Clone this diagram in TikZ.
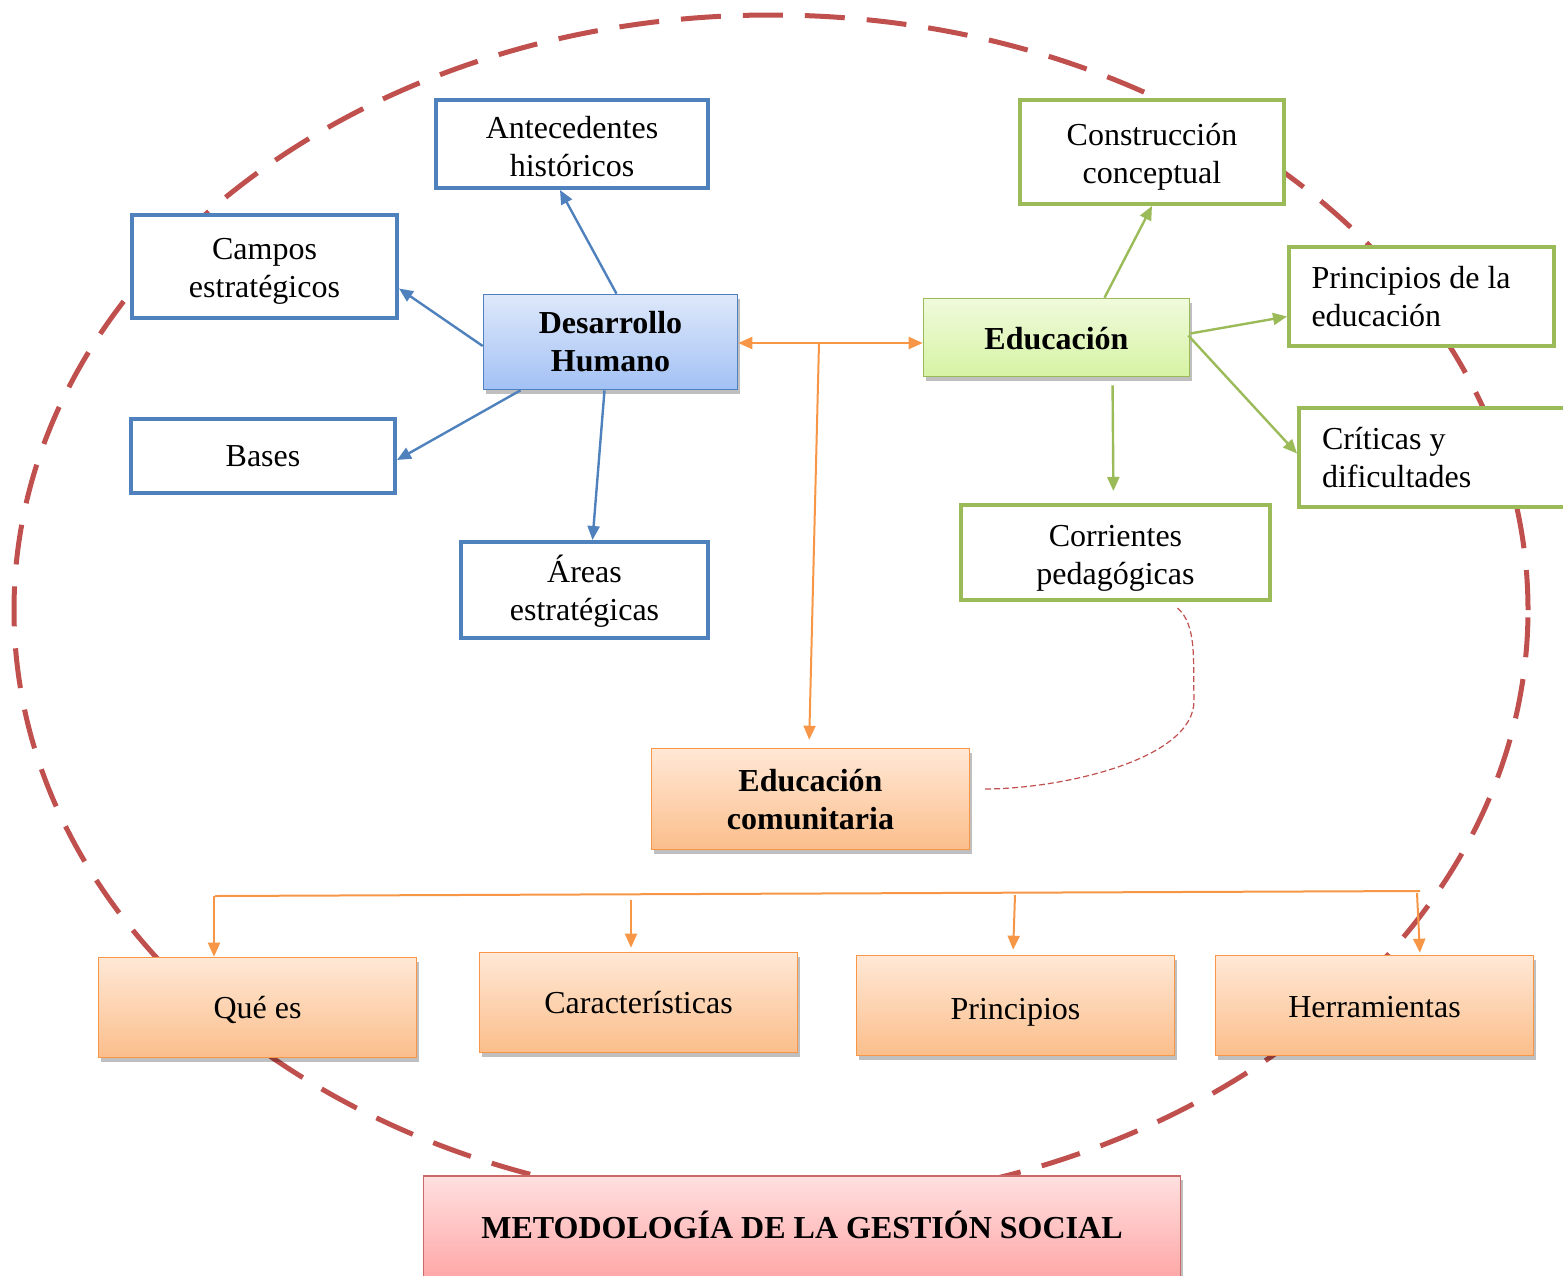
\documentclass[tikz,border=0pt]{standalone}
\usepackage{fontspec}
\setmainfont{Liberation Serif}
\usetikzlibrary{shadows,arrows.meta}
\definecolor{cblue}{HTML}{4F81BD}
\definecolor{cgreen}{HTML}{9BBB59}
\definecolor{corange}{HTML}{F79646}
\definecolor{cred}{HTML}{C0504D}
\newcommand{\bt}[2][2pt]{\raisebox{-#1}[\height][\depth]{\begin{tabular}{@{}c@{}}#2\end{tabular}}}
\newcommand{\btl}[2][1pt]{\raisebox{-#1}[\height][\depth]{\begin{tabular}{@{}l@{}}#2\end{tabular}}}
\begin{document}
\begin{tikzpicture}[x=0.5pt,y=-0.5pt,
  every node/.style={font=\fontsize{16}{19}\selectfont, align=center, inner sep=0pt},
  thickbox/.style={draw, line width=2pt, fill=white},
  bluebox/.style={thickbox, draw=cblue},
  greenbox/.style={thickbox, draw=cgreen},
  gradbox/.style={line width=0.8pt, drop shadow={shadow xshift=1pt, shadow yshift=-2pt, opacity=0.25, fill=black}},
  dhbox/.style={gradbox, draw=cblue, top color={rgb,255:red,222;green,232;blue,250}, bottom color={rgb,255:red,163;green,193;blue,245}, font=\fontsize{16}{19}\selectfont\bfseries},
  edubox/.style={gradbox, draw=cgreen, top color={rgb,255:red,240;green,250;blue,220}, bottom color={rgb,255:red,214;green,243;blue,164}, font=\fontsize{16}{19}\selectfont\bfseries},
  orbox/.style={gradbox, draw=corange, top color={rgb,255:red,255;green,232;blue,214}, bottom color={rgb,255:red,251;green,190;blue,139}},
  pinkbox/.style={gradbox, draw=cred!85, top color={rgb,255:red,255;green,224;blue,224}, bottom color={rgb,255:red,255;green,166;blue,166}, font=\fontsize{16}{19}\selectfont\bfseries},
  barrow/.style={draw=cblue, line width=1.2pt, -{Triangle[length=7pt,width=6pt]}},
  garrow/.style={draw=cgreen, line width=1.2pt, -{Triangle[length=7pt,width=6pt]}},
  oarrow/.style={draw=corange, line width=1pt, -{Triangle[length=7pt,width=6pt]}},
  oline/.style={draw=corange, line width=1pt},
  bigdash/.style={draw=cred, line width=2.5pt, dash pattern=on 20pt off 11pt},
  smalldash/.style={draw=cred, line width=0.6pt, dash pattern=on 3pt off 1.5pt}
]
\useasboundingbox (0,0) rectangle (1563,1275);
\clip (0,0) rectangle (1563,1275);

% big dashed ellipse
\draw[bigdash] (771,610) ellipse [x radius=378.5pt, y radius=297.5pt];

% left cluster
\node[bluebox, minimum width=136pt, minimum height=44pt] (ant) at (572,144) {\bt[3pt]{Antecedentes\\históricos}};
\node[bluebox, minimum width=132.5pt, minimum height=51.5pt] (cam) at (264.5,266.5) {\bt[2.2pt]{Campos\\estratégicos}};
\node[bluebox, minimum width=132pt, minimum height=37pt] (bas) at (263,456) {\bt[1.5pt]{Bases}};
\node[bluebox, minimum width=123.5pt, minimum height=48pt] (are) at (584.5,590) {\bt[1.5pt]{Áreas\\estratégicas}};
\node[dhbox, minimum width=127pt, minimum height=47.5pt] (dh) at (610.5,342) {\bt[1.3pt]{Desarrollo\\Humano}};

% right cluster
\node[edubox, minimum width=133pt, minimum height=39pt] (edu) at (1056.5,337.5) {\bt[2pt]{Educación}};
\node[greenbox, minimum width=132pt, minimum height=52pt] (con) at (1152,152) {\bt[2.2pt]{Construcción\\conceptual}};
\node[greenbox, minimum width=132.5pt, minimum height=49.5pt, text width=110pt, align=flush left] (pri) at (1421.5,296.5) {\btl[1.5pt]{Principios de la\\educación}};
\node[greenbox, minimum width=137pt, minimum height=49.5pt, text width=114pt, align=flush left] (cri) at (1436,457.5) {\btl[1.5pt]{Críticas y\\dificultades}};
\node[greenbox, minimum width=154.5pt, minimum height=47.5pt] (cor) at (1115.5,552.5) {\bt[2.5pt]{Corrientes\\pedagógicas}};

% middle
\node[orbox, minimum width=159pt, minimum height=50.5pt, font=\fontsize{16}{19}\selectfont\bfseries] (ec) at (810.5,799) {\bt[2pt]{Educación\\comunitaria}};

% bottom row
\node[orbox, minimum width=159pt, minimum height=50pt] (q) at (257.5,1007.5) {\bt[1.5pt]{Qué es}};
\node[orbox, minimum width=159pt, minimum height=50pt] (car) at (638.5,1002.5) {\bt[1.5pt]{Características}};
\node[orbox, minimum width=159pt, minimum height=50pt] (prin) at (1015.5,1005.5) {\bt[3pt]{Principios}};
\node[orbox, minimum width=159pt, minimum height=50pt] (her) at (1374.5,1005.5) {\bt[2pt]{Herramientas}};

\node[pinkbox, minimum width=378.5pt, minimum height=52pt] (met) at (802,1228) {\bt[1pt]{METODOLOGÍA DE LA GESTIÓN SOCIAL}};

% blue arrows
\draw[barrow] ([xshift=3pt]dh.north) -- ([xshift=-6pt]ant.south);
\draw[barrow] ([yshift=-2pt]dh.west) -- ([yshift=-11pt]cam.east);
\draw[barrow] ([xshift=-45pt]dh.south) -- ([yshift=-2pt]bas.east);
\draw[barrow] ([xshift=-3pt]dh.south) -- ([xshift=4pt]are.north);

% orange connectors
\draw[oline, {Triangle[length=7pt,width=6pt]}-{Triangle[length=7pt,width=6pt]}] ([yshift=-0.5pt]dh.east) -- ([yshift=-0.5pt]dh.east -| edu.west);
\coordinate (br) at (819,343);
\draw[oarrow, shorten >=4pt] (br) -- ([xshift=-0.75pt]ec.north);

\coordinate (busL) at (215,896);
\coordinate (busR) at (1420,891);
\draw[oline] (busL) -- (busR);
\coordinate (b1) at (214,896);
\coordinate (b2) at (631,900);
\coordinate (b3) at (1015,895);
\coordinate (b4) at (1417,893);
\draw[oarrow] (b1) -- (b1 |- q.north);
\draw[oarrow, shorten >=2pt] (b2) -- (b2 |- car.north);
\draw[oarrow, shorten >=2.5pt] (b3) -- ([xshift=-1pt]b3 |- prin.north);
\draw[oarrow, shorten >=1pt] (b4) -- ([xshift=1.5pt]b4 |- her.north);

% green arrows
\draw[garrow] ([xshift=24pt]edu.north) -- (con.south);
\draw[garrow] ([yshift=2pt]edu.east) -- ([yshift=-10pt]pri.west);
\draw[garrow] ([xshift=-1pt,yshift=1pt]edu.east) -- ([yshift=2pt]cri.west);
\draw[garrow, shorten <=4pt, shorten >=6pt] ([xshift=28pt]edu.south) -- ([xshift=-1pt]cor.north);

% dashed link
\draw[smalldash] ([xshift=31pt,yshift=-3pt]cor.south) .. controls (1197,625) and (1193,660) .. (1194,700)
  .. controls (1195,760) and (1060,789) .. ([xshift=7pt,yshift=5pt]ec.east);
\end{tikzpicture}
\end{document}
